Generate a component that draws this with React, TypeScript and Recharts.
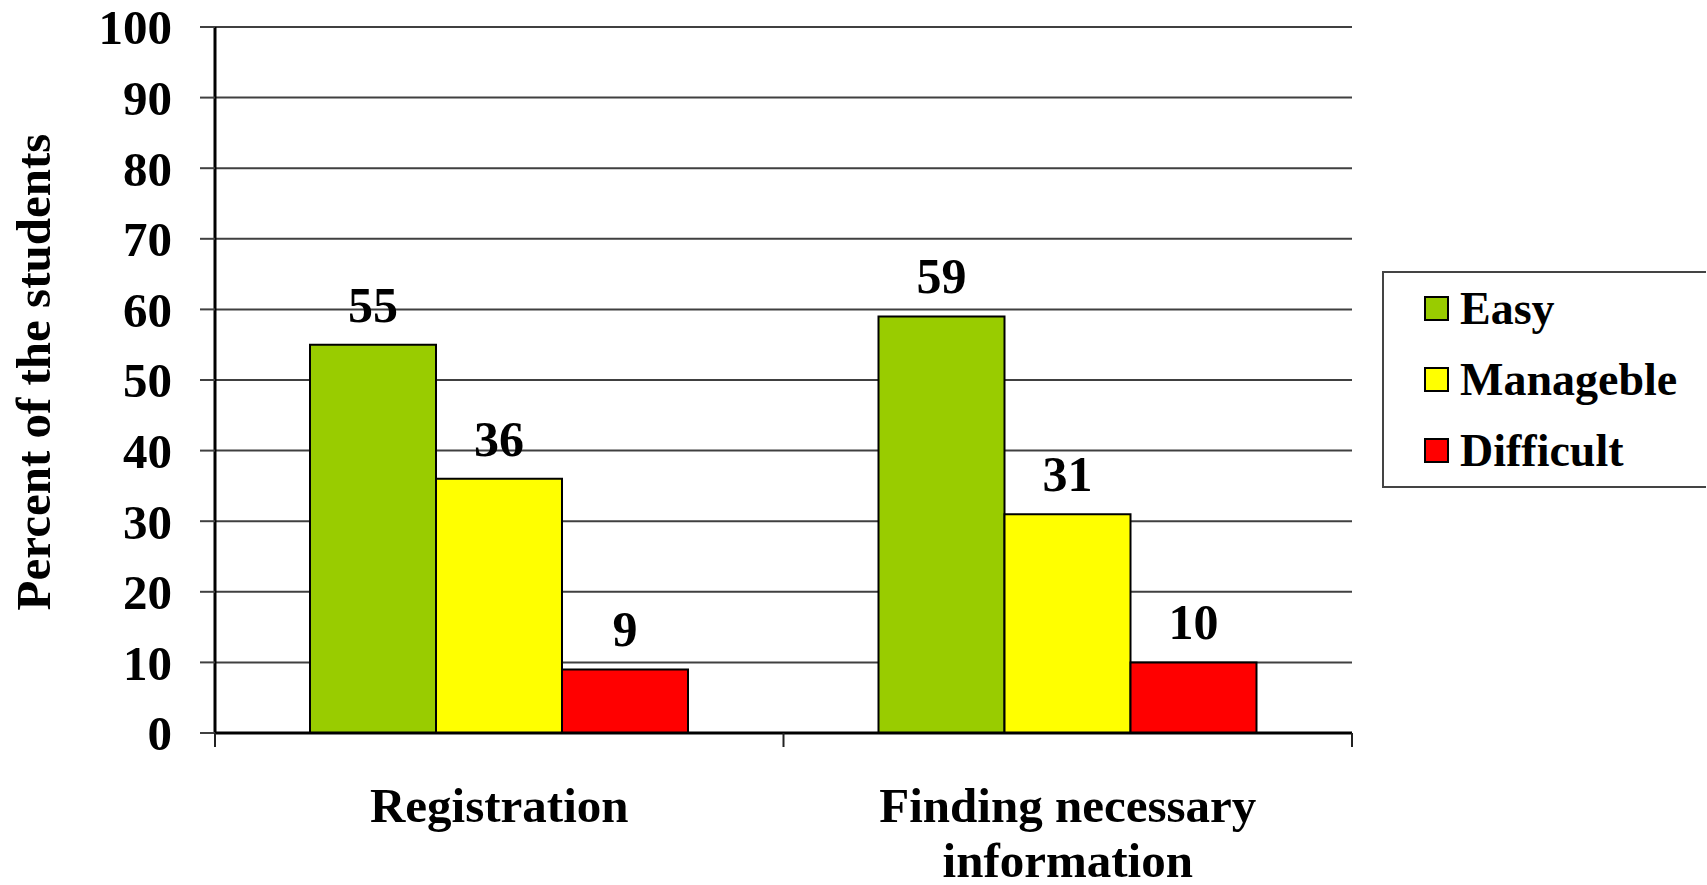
import React from 'react'
import { BarChart, Bar, XAxis, YAxis, CartesianGrid, LabelList, Legend } from 'recharts'

const categories = ['Registration', 'Finding necessary information']
const categoryLines = [['Registration'], ['Finding necessary', 'information']]
const easy = [55, 59]
const manageble = [36, 31]
const difficult = [9, 10]
const yTicks = [0, 10, 20, 30, 40, 50, 60, 70, 80, 90, 100]

const series = [
  { key: 'easy', name: 'Easy', color: '#99CC00' },
  { key: 'manageble', name: 'Manageble', color: '#FFFF00' },
  { key: 'difficult', name: 'Difficult', color: '#FF0000' },
]

const data = categories.map((name, i) => ({
  name,
  easy: easy[i],
  manageble: manageble[i],
  difficult: difficult[i],
}))

const FONT = '"Liberation Serif", "Times New Roman", serif'
const TICK_LEN = 14

// category label plus the boundary tick marks (Excel puts ticks between categories)
function CategoryTick(props: any) {
  const { x, y, payload } = props
  const lines = categoryLines[payload.index] ?? [payload.value]
  const half = payload.offset ?? 0
  const isLast = payload.index === categories.length - 1
  return (
    <g>
      <line x1={x - half} x2={x - half} y1={y} y2={y + TICK_LEN} stroke="#222" strokeWidth={2} />
      {isLast && <line x1={x + half} x2={x + half} y1={y} y2={y + TICK_LEN} stroke="#222" strokeWidth={2} />}
      <text x={x} y={y} textAnchor="middle" fontFamily={FONT} fontWeight="bold" fontSize={49} fill="#000">
        {lines.map((l: string, i: number) => (
          <tspan key={i} x={x} dy={i === 0 ? 89 : 55}>
            {l}
          </tspan>
        ))}
      </text>
    </g>
  )
}

function YTitle(props: any) {
  const { viewBox } = props
  const cx = viewBox.x + 33
  const cy = viewBox.y + viewBox.height / 2 - 8
  return (
    <text
      x={cx}
      y={cy}
      transform={`rotate(-90, ${cx}, ${cy})`}
      textAnchor="middle"
      dominantBaseline="central"
      fontFamily={FONT}
      fontWeight="bold"
      fontSize={49}
      fill="#000"
    >
      Percent of the students
    </text>
  )
}

function LegendBox() {
  return (
    <div
      style={{
        width: 322,
        height: 213,
        border: '2px solid #444',
        borderRight: 'none',
        background: '#fff',
      }}
    >
      {series.map((s) => (
        <div key={s.key} style={{ height: 71, display: 'flex', alignItems: 'center', paddingLeft: 40 }}>
          <div style={{ width: 21, height: 21, background: s.color, border: '2px solid #000' }} />
          <span
            style={{
              marginLeft: 11,
              fontFamily: FONT,
              fontWeight: 'bold',
              fontSize: 46,
              lineHeight: '50px',
              color: '#000',
            }}
          >
            {s.name}
          </span>
        </div>
      ))}
    </div>
  )
}

export default function App() {
  return (
    <div style={{ position: 'absolute', left: 0, top: 0, width: 1707, height: 885, background: '#fff' }}>
      <BarChart
        width={1707}
        height={885}
        data={data}
        margin={{ top: 27, right: 355, left: 0, bottom: 0 }}
        barCategoryGap={95}
        barGap={0}
      >
        <CartesianGrid vertical={false} stroke="#404040" strokeWidth={2} yAxisId="left" />
        <XAxis
          dataKey="name"
          height={152}
          tickSize={0}
          tickMargin={0}
          tickLine={false}
          axisLine={{ stroke: '#000', strokeWidth: 3 }}
          interval={0}
          tick={<CategoryTick />}
        />
        <YAxis
          yAxisId="left"
          width={215}
          domain={[0, 100]}
          ticks={yTicks}
          interval={0}
          tickSize={15}
          tickMargin={28}
          tickLine={{ stroke: '#404040', strokeWidth: 2 }}
          axisLine={{ stroke: '#000', strokeWidth: 3 }}
          tick={{ fontFamily: FONT, fontWeight: 'bold', fontSize: 49, fill: '#000' }}
          label={<YTitle />}
        />
        <YAxis
          yAxisId="right"
          orientation="right"
          width={0}
          domain={[0, 100]}
          tick={false}
          tickLine={false}
          axisLine={{ stroke: '#000', strokeWidth: 3 }}
        />
        <Legend
          layout="vertical"
          align="center"
          verticalAlign="middle"
          wrapperStyle={{ left: 1382, top: 271, width: 325 }}
          content={<LegendBox />}
        />
        {series.map((s) => (
          <Bar
            key={s.key}
            dataKey={s.key}
            name={s.name}
            yAxisId="left"
            fill={s.color}
            stroke="#000"
            strokeWidth={2}
            isAnimationActive={false}
          >
            <LabelList
              dataKey={s.key}
              position="top"
              offset={23}
              fill="#000"
              fontFamily={FONT}
              fontWeight="bold"
              fontSize={50}
            />
          </Bar>
        ))}
      </BarChart>
    </div>
  )
}
